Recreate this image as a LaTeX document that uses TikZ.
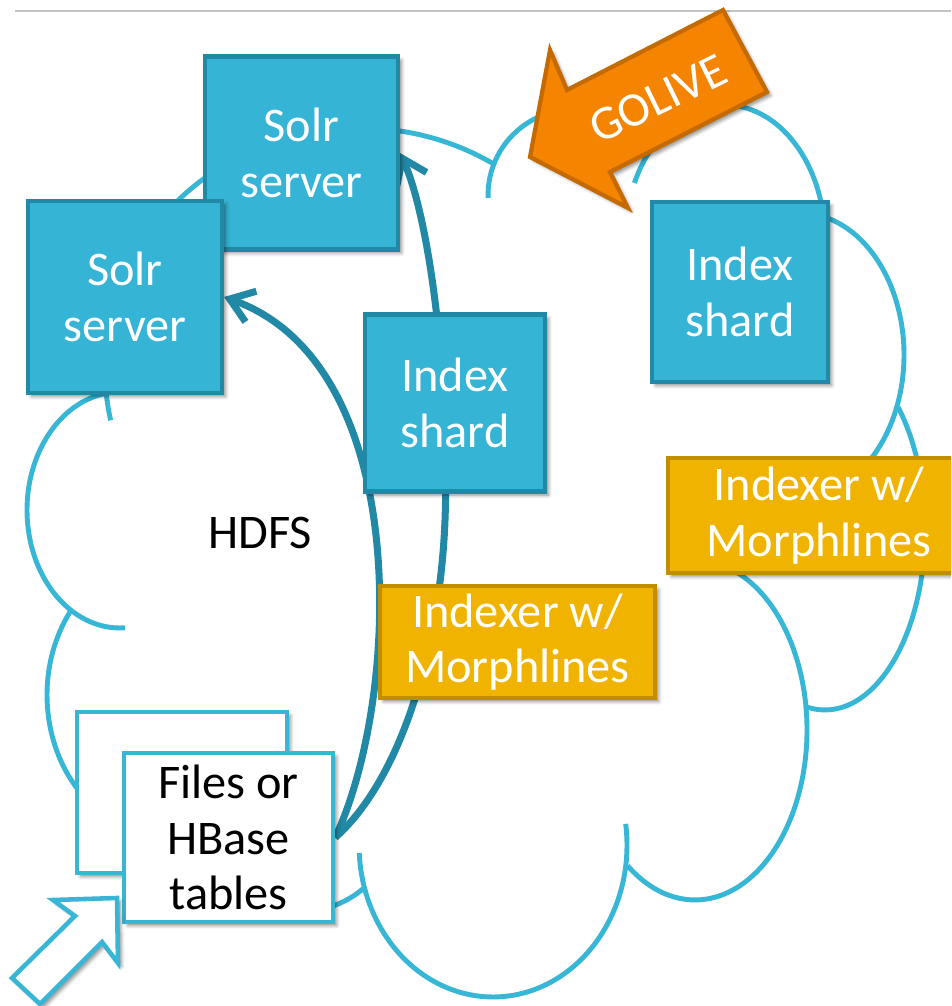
\documentclass[tikz,border=0pt]{standalone}
\usepackage{fontspec}
\setmainfont{Carlito}
\usetikzlibrary{arrows.meta}
\usetikzlibrary{shadows.blur}
\usetikzlibrary{backgrounds}
\definecolor{cloudblue}{RGB}{56, 182, 214}
\definecolor{shardblue}{RGB}{53, 180, 213}
\definecolor{tealdark}{RGB}{33, 137, 165}
\definecolor{morphyellow}{RGB}{240, 180, 0}
\definecolor{morphbrown}{RGB}{192, 143, 0}
\definecolor{goorange}{RGB}{245, 132, 0}
\definecolor{gobrown}{RGB}{196, 106, 0}
\definecolor{rulegray}{RGB}{196, 196, 196}

\tikzset{
  boxshadow/.style={blur shadow={shadow xshift=2pt, shadow yshift=-2pt, shadow blur radius=2pt, shadow opacity=45}},
  solrbox/.style={draw=tealdark, fill=shardblue, line width=2.4pt, text=white, align=center, inner sep=0pt, font=\fontsize{27.5}{31.5}\selectfont, boxshadow},
  morphbox/.style={solrbox, draw=morphbrown, fill=morphyellow},
  filebox/.style={draw=cloudblue, fill=white, line width=2.6pt, align=center, inner sep=0pt, font=\fontsize{27.5}{31.5}\selectfont, boxshadow},
  cloudline/.style={cloudblue, line width=2.8pt},
  feed/.style={tealdark, line width=4pt, -{Straight Barb[length=4.5mm, width=6.5mm]}},
}
\newcommand{\lobe}[6]{\draw[cloudline] (#1,#2) ++(#5:#3 and #4) arc[start angle=#5, end angle=#6, x radius=#3, y radius=#4];}

\begin{document}
\begin{tikzpicture}[x=0.02cm, y=-0.02cm]
  \useasboundingbox (0,0) rectangle (951,1006);
  \clip (0,0) rectangle (951,1006);
  \draw[rulegray, line width=1.1pt] (15,11) -- (951,11);

  \node[solrbox, minimum width=3.86cm, minimum height=3.86cm] (solrA) at (301.5,153) {Solr\\server};
  \node[solrbox, minimum width=3.88cm, minimum height=3.84cm] (solrB) at (125,297) {Solr\\server};
  \node[solrbox, minimum width=3.6cm, minimum height=3.54cm] (shardL) at (455,403) {Index\\shard};
  \node[solrbox, minimum width=3.52cm, minimum height=3.6cm] (shardR) at (740,292) {Index\\shard};
  \node[morphbox, minimum width=5.5cm, minimum height=2.24cm] (morphL) at (517.5,642) {Indexer w/\\Morphlines};
  \node[morphbox, minimum width=6.04cm, minimum height=2.3cm] (morphR) at (819,515.5) {Indexer w/\\Morphlines};
  \node[font=\fontsize{27.5}{31.5}\selectfont] (hdfs) at (260,533) {HDFS};
  \node[filebox, minimum width=4.2cm, minimum height=3.22cm] (filesBack) at (182,792.5) {};
  \node[filebox, minimum width=4.18cm, minimum height=3.38cm] (files) at (228.5,837.5) {Files or\\HBase\\tables};

  % GOLIVE arrow
  \draw[fill=goorange, draw=gobrown, line width=2.4pt, boxshadow] (530,157) -- (550,50) -- (567,90) -- (723,10) -- (767,92) -- (610,172) -- (628,208) -- cycle;
  \node[rotate=26, text=white, font=\fontsize{27.5}{31.5}\selectfont] (golive) at (658,99) {GOLIVE};

  % input arrow
  \draw[fill=white, draw=cloudblue, line width=2.6pt, boxshadow] (117,898) -- (118,963) -- (102,942) -- (40,1004) -- (12,978) -- (75,916) -- (53,900) -- cycle;

  \begin{scope}[on background layer]
    \lobe{120}{510}{1.86cm}{2.36cm}{97}{273}
    \lobe{360}{370}{5.1cm}{4.84cm}{58}{192}
    \lobe{575}{195}{1.74cm}{1.72cm}{35}{182}
    \lobe{725}{240}{2cm}{2.7cm}{-5}{155}
    \lobe{800}{355}{2.08cm}{2.84cm}{80}{-50}
    \lobe{825}{530}{2cm}{3.6cm}{43}{-100}
    \lobe{695}{730}{2.24cm}{3.4cm}{70}{-127}
    \lobe{493}{845}{2.68cm}{3.04cm}{8}{-177}
    \lobe{165}{695}{2.36cm}{2.8cm}{142}{270}
    \draw[cloudline] (364,888) .. controls (352,898) and (340,906) .. (300,916);
    \draw[feed] (files.east) .. controls (400,700) and (415,365) .. (solrB.east);
    \draw[feed] (files.east) .. controls (400,780) and (440,650) .. (445,520) .. controls (450,380) and (430,220) .. (solrA.east);
  \end{scope}
\end{tikzpicture}
\end{document}
